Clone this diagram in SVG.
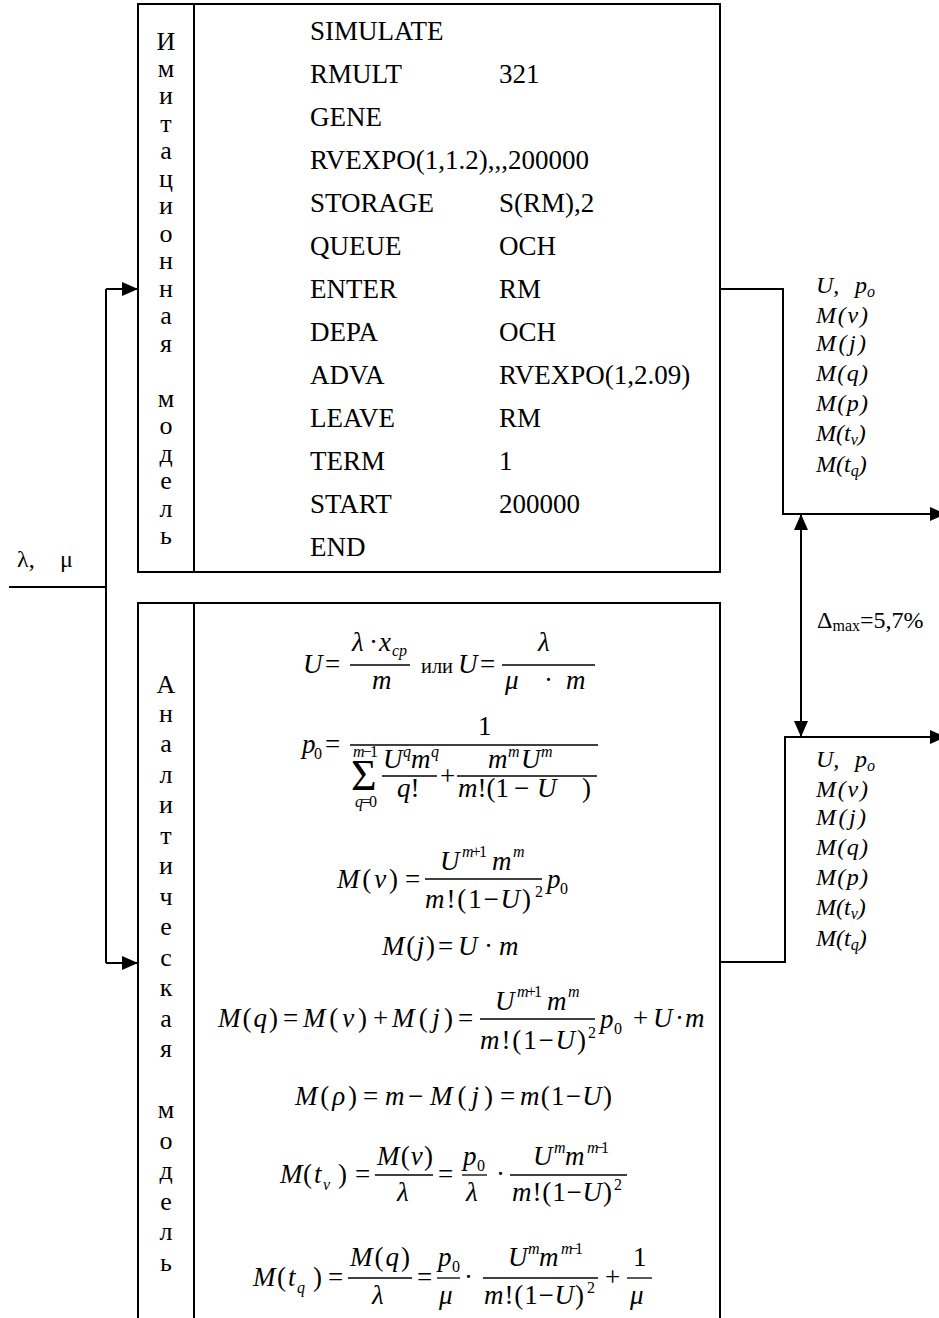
<svg xmlns="http://www.w3.org/2000/svg" width="939" height="1318" viewBox="0 0 939 1318">
<style>
text{font-family:"Liberation Serif","Times New Roman",serif;fill:#000}
.t{font-size:27px}
.v{font-size:26px;text-anchor:middle}
.m{font-size:27px}
.s{font-size:16px}
.i{font-style:italic}
.lab{font-size:24px;font-style:italic}
.sub{font-size:16px;font-style:italic}
.box{fill:none;stroke:#000;stroke-width:2}
.bar{stroke:#000;stroke-width:1.3}
.ln{fill:none;stroke:#000;stroke-width:2}
</style>
<defs>
<marker id="ah" viewBox="0 0 16 14" refX="16" refY="7" markerWidth="16" markerHeight="14" markerUnits="userSpaceOnUse" orient="auto-start-reverse"><path d="M0,0 L16,7 L0,14 z" fill="#000"/></marker>
</defs>

<g id="sim-model">
<rect class="box" x="138" y="4" width="582" height="568"/>
<line class="box" x1="194" y1="4" x2="194" y2="572"/>
<g class="vt">
<text class="v" x="166" y="50">И</text>
<text class="v" x="166" y="76.5">м</text>
<text class="v" x="166" y="104">и</text>
<text class="v" x="166" y="131.5">т</text>
<text class="v" x="166" y="159">а</text>
<text class="v" x="166" y="186.5">ц</text>
<text class="v" x="166" y="214">и</text>
<text class="v" x="166" y="241.5">о</text>
<text class="v" x="166" y="269">н</text>
<text class="v" x="166" y="296.5">н</text>
<text class="v" x="166" y="324">а</text>
<text class="v" x="166" y="351.5">я</text>
<text class="v" x="166" y="406.5">м</text>
<text class="v" x="166" y="434">о</text>
<text class="v" x="166" y="461.5">д</text>
<text class="v" x="166" y="489">е</text>
<text class="v" x="166" y="516.5">л</text>
<text class="v" x="166" y="544">ь</text>
</g>
<g class="prog">
<text class="t" x="310" y="40">SIMULATE</text>
<text class="t" x="310" y="83">RMULT</text><text class="t" x="499" y="83">321</text>
<text class="t" x="310" y="126">GENE</text>
<text class="t" x="310" y="169">RVEXPO(1,1.2),,,200000</text>
<text class="t" x="310" y="212">STORAGE</text><text class="t" x="499" y="212">S(RM),2</text>
<text class="t" x="310" y="255">QUEUE</text><text class="t" x="499" y="255">OCH</text>
<text class="t" x="310" y="298">ENTER</text><text class="t" x="499" y="298">RM</text>
<text class="t" x="310" y="341">DEPA</text><text class="t" x="499" y="341">OCH</text>
<text class="t" x="310" y="384">ADVA</text><text class="t" x="499" y="384">RVEXPO(1,2.09)</text>
<text class="t" x="310" y="427">LEAVE</text><text class="t" x="499" y="427">RM</text>
<text class="t" x="310" y="470">TERM</text><text class="t" x="499" y="470">1</text>
<text class="t" x="310" y="513">START</text><text class="t" x="499" y="513">200000</text>
<text class="t" x="310" y="556">END</text>
</g>
</g>

<g id="analytic-model">
<path class="box" d="M138,1320 V603 H720 V1320"/>
<line class="box" x1="194" y1="603" x2="194" y2="1320"/>
<g class="vt">
<text class="v" x="166" y="693">А</text>
<text class="v" x="166" y="721.5">н</text>
<text class="v" x="166" y="752">а</text>
<text class="v" x="166" y="782.5">л</text>
<text class="v" x="166" y="813">и</text>
<text class="v" x="166" y="843.5">т</text>
<text class="v" x="166" y="874">и</text>
<text class="v" x="166" y="904.5">ч</text>
<text class="v" x="166" y="935">е</text>
<text class="v" x="166" y="965.5">с</text>
<text class="v" x="166" y="996">к</text>
<text class="v" x="166" y="1026.5">а</text>
<text class="v" x="166" y="1057">я</text>
<text class="v" x="166" y="1118">м</text>
<text class="v" x="166" y="1148.5">о</text>
<text class="v" x="166" y="1179">д</text>
<text class="v" x="166" y="1209.5">е</text>
<text class="v" x="166" y="1240">л</text>
<text class="v" x="166" y="1270.5">ь</text>
</g>
<g class="formulas">
<!-- line 1 -->
<text class="m i" x="303" y="673">U</text>
<text class="m" x="325" y="673">=</text>
<text class="m i" x="352" y="651">λ</text>
<text class="m" x="369" y="651">·</text>
<text class="m i" x="379" y="651">x</text>
<text class="s i" x="392" y="656">cp</text>
<line class="bar" x1="350" y1="665" x2="410" y2="665"/>
<text class="m i" x="372" y="689">m</text>
<text x="421" y="673" style="font-size:22px" textLength="32" lengthAdjust="spacingAndGlyphs">или</text>
<text class="m i" x="458" y="673">U</text>
<text class="m" x="480" y="673">=</text>
<text class="m i" x="538" y="651">λ</text>
<line class="bar" x1="502" y1="665" x2="595" y2="665"/>
<text class="m i" x="505" y="689">μ</text>
<text class="m" x="544" y="689">·</text>
<text class="m i" x="566" y="689">m</text>
<!-- line 2 -->
<text class="m i" x="302" y="753">p</text>
<text class="s" x="314" y="759">0</text>
<text class="m" x="325" y="753">=</text>
<text class="m" x="478" y="735">1</text>
<line class="bar" x1="350" y1="745" x2="598" y2="745"/>
<text x="351" y="790" style="font-size:44px">Σ</text>
<text class="s" x="353" y="757" textLength="25"><tspan class="i">m</tspan>−1</text>
<text class="s" x="355" y="807" textLength="22"><tspan class="i">q</tspan>=0</text>
<text class="m i" x="383" y="768">U</text>
<text class="s i" x="403" y="757">q</text>
<text class="m i" x="411" y="768">m</text>
<text class="s i" x="431" y="757">q</text>
<line class="bar" x1="382" y1="776" x2="437" y2="776"/>
<text class="m" x="397" y="797"><tspan class="i">q</tspan>!</text>
<text class="m" x="440" y="785">+</text>
<text class="m i" x="488" y="768">m</text>
<text class="s i" x="508" y="757">m</text>
<text class="m i" x="521" y="768">U</text>
<text class="s i" x="541" y="757">m</text>
<line class="bar" x1="457" y1="776" x2="597" y2="776"/>
<text class="m" x="458" y="797"><tspan class="i">m</tspan>!(1</text>
<text class="m" x="514" y="797">−</text>
<text class="m i" x="537" y="797">U</text>
<text class="m" x="582" y="797">)</text>
<!-- line 3 -->
<text class="m" x="337" y="888" textLength="61" lengthAdjust="spacing"><tspan class="i">M</tspan>(<tspan class="i">v</tspan>)</text>
<text class="m" x="405" y="888">=</text>
<text class="m i" x="440" y="870">U</text>
<text class="s" x="462" y="857" textLength="25"><tspan class="i">m</tspan>+1</text>
<text class="m i" x="492" y="870">m</text>
<text class="s i" x="513" y="857">m</text>
<line class="bar" x1="425" y1="879" x2="542" y2="879"/>
<text class="m" x="425" y="908" textLength="106" lengthAdjust="spacing"><tspan class="i">m</tspan>!(1−<tspan class="i">U</tspan>)</text>
<text class="s" x="535" y="897">2</text>
<text class="m i" x="547" y="888">p</text>
<text class="s" x="560" y="894">0</text>
<!-- line 4 -->
<text class="m" x="382" y="955" textLength="53" lengthAdjust="spacing"><tspan class="i">M</tspan>(<tspan class="i">j</tspan>)</text>
<text class="m" x="438" y="955">=</text>
<text class="m i" x="458" y="955">U</text>
<text class="m" x="484" y="955">·</text>
<text class="m i" x="499" y="955">m</text>
<!-- line 5 -->
<text class="m" x="218" y="1027" textLength="60" lengthAdjust="spacing"><tspan class="i">M</tspan>(<tspan class="i">q</tspan>)</text>
<text class="m" x="283" y="1027">=</text>
<text class="m" x="303" y="1027" textLength="64" lengthAdjust="spacing"><tspan class="i">M</tspan>(<tspan class="i">v</tspan>)</text>
<text class="m" x="373" y="1027">+</text>
<text class="m" x="392" y="1027" textLength="61" lengthAdjust="spacing"><tspan class="i">M</tspan>(<tspan class="i">j</tspan>)</text>
<text class="m" x="458" y="1027">=</text>
<text class="m i" x="495" y="1010">U</text>
<text class="s" x="517" y="997" textLength="25"><tspan class="i">m</tspan>+1</text>
<text class="m i" x="547" y="1010">m</text>
<text class="s i" x="568" y="997">m</text>
<line class="bar" x1="480" y1="1019" x2="595" y2="1019"/>
<text class="m" x="480" y="1049" textLength="106" lengthAdjust="spacing"><tspan class="i">m</tspan>!(1−<tspan class="i">U</tspan>)</text>
<text class="s" x="588" y="1038">2</text>
<text class="m i" x="600" y="1028">p</text>
<text class="s" x="614" y="1034">0</text>
<text class="m" x="633" y="1027">+</text>
<text class="m i" x="653" y="1027">U</text>
<text class="m" x="675" y="1027">·</text>
<text class="m i" x="685" y="1027">m</text>
<!-- line 6 -->
<text class="m" x="295" y="1105" textLength="62" lengthAdjust="spacing"><tspan class="i">M</tspan>(<tspan class="i">ρ</tspan>)</text>
<text class="m" x="363" y="1105">=</text>
<text class="m i" x="385" y="1105">m</text>
<text class="m" x="408" y="1105">−</text>
<text class="m" x="430" y="1105" textLength="63" lengthAdjust="spacing"><tspan class="i">M</tspan>(<tspan class="i">j</tspan>)</text>
<text class="m" x="500" y="1105">=</text>
<text class="m" x="520" y="1105" textLength="92" lengthAdjust="spacing"><tspan class="i">m</tspan>(1−<tspan class="i">U</tspan>)</text>
<!-- line 7 -->
<text class="m i" x="280" y="1183">M</text>
<text class="m" x="303" y="1183">(</text>
<text class="m i" x="314" y="1183">t</text>
<text class="sub" x="323" y="1190">v</text>
<text class="m" x="338" y="1183">)</text>
<text class="m" x="355" y="1183">=</text>
<text class="m" x="377" y="1165" textLength="56" lengthAdjust="spacing"><tspan class="i">M</tspan>(<tspan class="i">v</tspan>)</text>
<line class="bar" x1="375" y1="1175" x2="433" y2="1175"/>
<text class="m i" x="397" y="1201">λ</text>
<text class="m" x="438" y="1183">=</text>
<text class="m i" x="463" y="1165">p</text>
<text class="s" x="477" y="1171">0</text>
<line class="bar" x1="462" y1="1175" x2="487" y2="1175"/>
<text class="m i" x="466" y="1201">λ</text>
<text class="m" x="496" y="1183">·</text>
<text class="m i" x="533" y="1165">U</text>
<text class="s i" x="554" y="1153">m</text>
<text class="m i" x="565" y="1165">m</text>
<text class="s" x="587" y="1153" textLength="22"><tspan class="i">m</tspan>−1</text>
<line class="bar" x1="510" y1="1175" x2="627" y2="1175"/>
<text class="m" x="512" y="1201" textLength="100" lengthAdjust="spacing"><tspan class="i">m</tspan>!(1−<tspan class="i">U</tspan>)</text>
<text class="s" x="614" y="1190">2</text>
<!-- line 8 -->
<text class="m i" x="253" y="1286">M</text>
<text class="m" x="277" y="1286">(</text>
<text class="m i" x="288" y="1286">t</text>
<text class="sub" x="297" y="1293">q</text>
<text class="m" x="313" y="1286">)</text>
<text class="m" x="328" y="1286">=</text>
<text class="m" x="350" y="1266" textLength="60" lengthAdjust="spacing"><tspan class="i">M</tspan>(<tspan class="i">q</tspan>)</text>
<line class="bar" x1="348" y1="1278" x2="412" y2="1278"/>
<text class="m i" x="372" y="1304">λ</text>
<text class="m" x="417" y="1286">=</text>
<text class="m i" x="438" y="1266">p</text>
<text class="s" x="452" y="1272">0</text>
<line class="bar" x1="437" y1="1278" x2="460" y2="1278"/>
<text class="m i" x="439" y="1304">μ</text>
<text class="m" x="464" y="1286">·</text>
<text class="m i" x="508" y="1266">U</text>
<text class="s i" x="528" y="1254">m</text>
<text class="m i" x="539" y="1266">m</text>
<text class="s" x="561" y="1254" textLength="22"><tspan class="i">m</tspan>−1</text>
<line class="bar" x1="483" y1="1278" x2="598" y2="1278"/>
<text class="m" x="484" y="1304" textLength="100" lengthAdjust="spacing"><tspan class="i">m</tspan>!(1−<tspan class="i">U</tspan>)</text>
<text class="s" x="587" y="1293">2</text>
<text class="m" x="605" y="1286">+</text>
<text class="m" x="633" y="1266">1</text>
<line class="bar" x1="627" y1="1278" x2="652" y2="1278"/>
<text class="m i" x="630" y="1304">μ</text>
</g>
</g>

<g id="input-label">
<text x="17" y="567" style="font-size:24px">λ,</text>
<text x="60" y="567" style="font-size:24px">μ</text>
</g>

<g id="sim-results">
<text class="lab" x="816" y="293">U,</text><text class="lab" x="855" y="293">p<tspan class="sub" dy="4">o</tspan></text>
<text class="lab" x="816" y="323" textLength="52" lengthAdjust="spacing">M(v)</text>
<text class="lab" x="816" y="351" textLength="50" lengthAdjust="spacing">M(j)</text>
<text class="lab" x="816" y="381" textLength="52" lengthAdjust="spacing">M(q)</text>
<text class="lab" x="816" y="411" textLength="52" lengthAdjust="spacing">M(p)</text>
<text class="lab" x="816" y="441">M(t<tspan class="sub" dy="4">v</tspan><tspan dy="-4">)</tspan></text>
<text class="lab" x="816" y="472">M(t<tspan class="sub" dy="4">q</tspan><tspan dy="-4">)</tspan></text>
</g>

<g id="analytic-results">
<text class="lab" x="816" y="767">U,</text><text class="lab" x="855" y="767">p<tspan class="sub" dy="4">o</tspan></text>
<text class="lab" x="816" y="797" textLength="52" lengthAdjust="spacing">M(v)</text>
<text class="lab" x="816" y="825" textLength="50" lengthAdjust="spacing">M(j)</text>
<text class="lab" x="816" y="855" textLength="52" lengthAdjust="spacing">M(q)</text>
<text class="lab" x="816" y="885" textLength="52" lengthAdjust="spacing">M(p)</text>
<text class="lab" x="816" y="915">M(t<tspan class="sub" dy="4">v</tspan><tspan dy="-4">)</tspan></text>
<text class="lab" x="816" y="946">M(t<tspan class="sub" dy="4">q</tspan><tspan dy="-4">)</tspan></text>
</g>

<g id="delta-label">
<text x="817" y="628" style="font-size:24px">Δ<tspan style="font-size:16px" dy="3">max</tspan><tspan dy="-3">=5,7%</tspan></text>
</g>

<g id="connectors">
<path class="ln" d="M9,587 H106"/>
<path class="ln" d="M106,289 V963"/>
<path class="ln" d="M106,289 H138" marker-end="url(#ah)"/>
<path class="ln" d="M106,963 H138" marker-end="url(#ah)"/>
<path class="ln" d="M720,289 H783 V514 H946" marker-end="url(#ah)"/>
<path class="ln" d="M720,962 H785 V737 H946" marker-end="url(#ah)"/>
<path class="ln" d="M801,514 V737" marker-start="url(#ah)" marker-end="url(#ah)"/>
</g>
</svg>
